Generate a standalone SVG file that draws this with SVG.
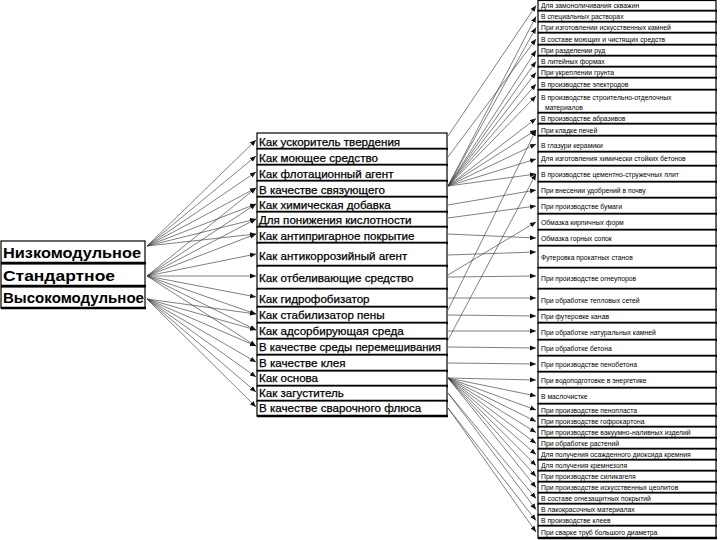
<svg xmlns="http://www.w3.org/2000/svg" width="720" height="540" viewBox="0 0 720 540">
<defs>
<marker id="ah" markerWidth="6" markerHeight="6" refX="6" refY="3" orient="auto" markerUnits="userSpaceOnUse"><path d="M0,0.5 L6,3 L0,5.5 z" fill="#111"/></marker>
<style>
.bx{fill:#fff;stroke:#000;stroke-width:1.2}
.bl{stroke:#000;stroke-width:2.4}
.lt{font-family:"Liberation Sans",Arial,sans-serif;font-weight:bold;font-size:15px;fill:#000}
.mt{font-family:"Liberation Sans",Arial,sans-serif;font-size:11.6px;fill:#000;stroke:#000;stroke-width:0.25}
.rt{font-family:"Liberation Sans",Arial,sans-serif;font-size:6.8px;fill:#000}
.c{fill:none;stroke:#3a3a3a;stroke-width:0.65;marker-end:url(#ah)}
</style>
</defs>
<rect width="720" height="540" fill="#fff"/>

<g id="connectors">
<path class="c" d="M147,246 L256,140"/>
<path class="c" d="M147,246 L256,156"/>
<path class="c" d="M147,246 L256,172"/>
<path class="c" d="M147,246 L256,188"/>
<path class="c" d="M147,246 L256,204"/>
<path class="c" d="M147,246 L256,219"/>
<path class="c" d="M147,246 L256,234"/>
<path class="c" d="M147,276 L256,188"/>
<path class="c" d="M147,276 L256,204"/>
<path class="c" d="M147,276 L256,219"/>
<path class="c" d="M147,276 L256,234"/>
<path class="c" d="M147,276 L256,254"/>
<path class="c" d="M147,276 L256,276"/>
<path class="c" d="M147,276 L256,297"/>
<path class="c" d="M147,276 L256,314"/>
<path class="c" d="M147,276 L256,330"/>
<path class="c" d="M147,276 L256,346"/>
<path class="c" d="M147,299 L256,314"/>
<path class="c" d="M147,299 L256,330"/>
<path class="c" d="M147,299 L256,346"/>
<path class="c" d="M147,299 L256,362"/>
<path class="c" d="M147,299 L256,377"/>
<path class="c" d="M147,299 L256,392"/>
<path class="c" d="M147,299 L256,407"/>
<path class="c" d="M448,136 L536,5.5"/>
<path class="c" d="M448,186 L536,16.5"/>
<path class="c" d="M448,186 L536,27.5"/>
<path class="c" d="M448,157 L536,39"/>
<path class="c" d="M448,186 L536,50.5"/>
<path class="c" d="M448,186 L536,61.5"/>
<path class="c" d="M448,186 L536,72.5"/>
<path class="c" d="M448,186 L536,84"/>
<path class="c" d="M448,186 L536,96"/>
<path class="c" d="M448,186 L536,118.5"/>
<path class="c" d="M448,186 L536,130"/>
<path class="c" d="M448,186 L536,144"/>
<path class="c" d="M448,186 L536,159"/>
<path class="c" d="M448,186 L536,174"/>
<path class="c" d="M448,205 L536,190"/>
<path class="c" d="M448,218 L536,206"/>
<path class="c" d="M448,275 L536,222"/>
<path class="c" d="M448,234 L536,238"/>
<path class="c" d="M448,255 L536,252"/>
<path class="c" d="M448,340 L536,174"/>
<path class="c" d="M448,310 L536,130"/>
<path class="c" d="M448,277 L536,276"/>
<path class="c" d="M448,298 L536,298"/>
<path class="c" d="M448,315 L536,316"/>
<path class="c" d="M448,331 L536,331"/>
<path class="c" d="M448,347 L536,348"/>
<path class="c" d="M448,363 L536,364"/>
<path class="c" d="M448,378 L536,380"/>
<path class="c" d="M448,378 L536,396"/>
<path class="c" d="M448,378 L536,410"/>
<path class="c" d="M448,378 L536,421.5"/>
<path class="c" d="M448,378 L536,432.5"/>
<path class="c" d="M448,378 L536,443.5"/>
<path class="c" d="M448,378 L536,454.5"/>
<path class="c" d="M448,378 L536,465.5"/>
<path class="c" d="M448,378 L536,476.5"/>
<path class="c" d="M448,378 L536,487.5"/>
<path class="c" d="M448,393 L536,498.5"/>
<path class="c" d="M448,393 L536,509.5"/>
<path class="c" d="M448,408 L536,520.5"/>
<path class="c" d="M448,408 L536,532"/>
</g>

<g id="left">
<g id="l1"><rect class="bx" x="1" y="241" width="144" height="22"/><line class="bl" x1="1" y1="263" x2="146" y2="263"/><text class="lt" x="3" y="258" textLength="138" lengthAdjust="spacingAndGlyphs">Низкомодульное</text></g>
<g id="l2"><rect class="bx" x="1" y="264" width="144" height="22"/><line class="bl" x1="1" y1="286" x2="146" y2="286"/><text class="lt" x="3" y="281" textLength="112" lengthAdjust="spacingAndGlyphs">Стандартное</text></g>
<g id="l3"><rect class="bx" x="1" y="287" width="144" height="21"/><line class="bl" x1="1" y1="308" x2="146" y2="308"/><text class="lt" x="3" y="303" textLength="141" lengthAdjust="spacingAndGlyphs">Высокомодульное</text></g>
</g>

<g id="middle">
<g id="m1"><rect class="bx" x="257" y="133" width="190" height="16"/><line class="bl" x1="257" y1="149" x2="448" y2="149"/><text class="mt" x="259" y="146">Как ускоритель твердения</text></g>
<g id="m2"><rect class="bx" x="257" y="149" width="190" height="16"/><line class="bl" x1="257" y1="165" x2="448" y2="165"/><text class="mt" x="259" y="162">Как моющее средство</text></g>
<g id="m3"><rect class="bx" x="257" y="165" width="190" height="16"/><line class="bl" x1="257" y1="181" x2="448" y2="181"/><text class="mt" x="259" y="178">Как флотационный агент</text></g>
<g id="m4"><rect class="bx" x="257" y="181" width="190" height="16"/><line class="bl" x1="257" y1="197" x2="448" y2="197"/><text class="mt" x="259" y="194">В качестве связующего</text></g>
<g id="m5"><rect class="bx" x="257" y="197" width="190" height="15"/><line class="bl" x1="257" y1="212" x2="448" y2="212"/><text class="mt" x="259" y="209">Как химическая добавка</text></g>
<g id="m6"><rect class="bx" x="257" y="212" width="190" height="15"/><line class="bl" x1="257" y1="227" x2="448" y2="227"/><text class="mt" x="259" y="224">Для понижения кислотности</text></g>
<g id="m7"><rect class="bx" x="257" y="227" width="190" height="16"/><line class="bl" x1="257" y1="243" x2="448" y2="243"/><text class="mt" x="259" y="240">Как антипригарное покрытие</text></g>
<g id="m8"><rect class="bx" x="257" y="243" width="190" height="23"/><line class="bl" x1="257" y1="266" x2="448" y2="266"/><text class="mt" x="259" y="260">Как антикоррозийный агент</text></g>
<g id="m9"><rect class="bx" x="257" y="266" width="190" height="23"/><line class="bl" x1="257" y1="289" x2="448" y2="289"/><text class="mt" x="259" y="282">Как отбеливающие средство</text></g>
<g id="m10"><rect class="bx" x="257" y="289" width="190" height="18"/><line class="bl" x1="257" y1="307" x2="448" y2="307"/><text class="mt" x="259" y="303">Как гидрофобизатор</text></g>
<g id="m11"><rect class="bx" x="257" y="307" width="190" height="16"/><line class="bl" x1="257" y1="323" x2="448" y2="323"/><text class="mt" x="259" y="319">Как стабилизатор пены</text></g>
<g id="m12"><rect class="bx" x="257" y="323" width="190" height="16"/><line class="bl" x1="257" y1="339" x2="448" y2="339"/><text class="mt" x="259" y="335">Как адсорбирующая среда</text></g>
<g id="m13"><rect class="bx" x="257" y="339" width="190" height="16"/><line class="bl" x1="257" y1="355" x2="448" y2="355"/><text class="mt" x="259" y="351" textLength="182" lengthAdjust="spacingAndGlyphs">В качестве среды перемешивания</text></g>
<g id="m14"><rect class="bx" x="257" y="355" width="190" height="16"/><line class="bl" x1="257" y1="371" x2="448" y2="371"/><text class="mt" x="259" y="367">В качестве клея</text></g>
<g id="m15"><rect class="bx" x="257" y="371" width="190" height="15"/><line class="bl" x1="257" y1="386" x2="448" y2="386"/><text class="mt" x="259" y="382">Как основа</text></g>
<g id="m16"><rect class="bx" x="257" y="386" width="190" height="15"/><line class="bl" x1="257" y1="401" x2="448" y2="401"/><text class="mt" x="259" y="397">Как загуститель</text></g>
<g id="m17"><rect class="bx" x="257" y="401" width="190" height="15"/><line class="bl" x1="257" y1="416" x2="448" y2="416"/><text class="mt" x="259" y="412">В качестве сварочного флюса</text></g>
</g>

<g id="right">
<g id="r1"><rect class="bx" x="538" y="0.5" width="178" height="10.5"/><line class="bl" x1="538" y1="11" x2="717" y2="11"/><text class="rt" x="541" y="8">Для замоноличивания скважин</text></g>
<g id="r2"><rect class="bx" x="538" y="11" width="178" height="11"/><line class="bl" x1="538" y1="22" x2="717" y2="22"/><text class="rt" x="541" y="19">В специальных растворах</text></g>
<g id="r3"><rect class="bx" x="538" y="22" width="178" height="11"/><line class="bl" x1="538" y1="33" x2="717" y2="33"/><text class="rt" x="541" y="30">При изготовлении искусственных камней</text></g>
<g id="r4"><rect class="bx" x="538" y="33" width="178" height="12"/><line class="bl" x1="538" y1="45" x2="717" y2="45"/><text class="rt" x="541" y="41.5">В составе моющих и чистящих средств</text></g>
<g id="r5"><rect class="bx" x="538" y="45" width="178" height="11"/><line class="bl" x1="538" y1="56" x2="717" y2="56"/><text class="rt" x="541" y="53">При разделении руд</text></g>
<g id="r6"><rect class="bx" x="538" y="56" width="178" height="11"/><line class="bl" x1="538" y1="67" x2="717" y2="67"/><text class="rt" x="541" y="64">В литейных формах</text></g>
<g id="r7"><rect class="bx" x="538" y="67" width="178" height="11"/><line class="bl" x1="538" y1="78" x2="717" y2="78"/><text class="rt" x="541" y="75">При укреплении грунта</text></g>
<g id="r8"><rect class="bx" x="538" y="78" width="178" height="12"/><line class="bl" x1="538" y1="90" x2="717" y2="90"/><text class="rt" x="541" y="86.5">В производстве электродов</text></g>
<g id="r9"><rect class="bx" x="538" y="90" width="178" height="23"/><line class="bl" x1="538" y1="113" x2="717" y2="113"/><text class="rt" x="541" y="99.5">В производстве строительно-отделочных</text><text class="rt" x="545" y="109.5">материалов</text></g>
<g id="r10"><rect class="bx" x="538" y="113" width="178" height="11"/><line class="bl" x1="538" y1="124" x2="717" y2="124"/><text class="rt" x="541" y="121">В производстве абразивов</text></g>
<g id="r11"><rect class="bx" x="538" y="124" width="178" height="12"/><line class="bl" x1="538" y1="136" x2="717" y2="136"/><text class="rt" x="541" y="132.5">При кладке печей</text></g>
<g id="r12"><rect class="bx" x="538" y="136" width="178" height="16"/><line class="bl" x1="538" y1="152" x2="717" y2="152"/><text class="rt" x="541" y="147.5">В глазури керамики</text></g>
<g id="r13"><rect class="bx" x="538" y="152" width="178" height="14"/><line class="bl" x1="538" y1="166" x2="717" y2="166"/><text class="rt" x="541" y="161">Для изготовления химически стойких бетонов</text></g>
<g id="r14"><rect class="bx" x="538" y="166" width="178" height="16"/><line class="bl" x1="538" y1="182" x2="717" y2="182"/><text class="rt" x="541" y="176.5">В производстве цементно-стружечных плит</text></g>
<g id="r15"><rect class="bx" x="538" y="182" width="178" height="16"/><line class="bl" x1="538" y1="198" x2="717" y2="198"/><text class="rt" x="541" y="192.5">При внесении удобрений в почву</text></g>
<g id="r16"><rect class="bx" x="538" y="198" width="178" height="16"/><line class="bl" x1="538" y1="214" x2="717" y2="214"/><text class="rt" x="541" y="208.5">При производстве бумаги</text></g>
<g id="r17"><rect class="bx" x="538" y="214" width="178" height="16"/><line class="bl" x1="538" y1="230" x2="717" y2="230"/><text class="rt" x="541" y="224.5">Обмазка кирпичных форм</text></g>
<g id="r18"><rect class="bx" x="538" y="230" width="178" height="16"/><line class="bl" x1="538" y1="246" x2="717" y2="246"/><text class="rt" x="541" y="240.5">Обмазка горных сопок</text></g>
<g id="r19"><rect class="bx" x="538" y="246" width="178" height="22"/><line class="bl" x1="538" y1="268" x2="717" y2="268"/><text class="rt" x="541" y="260">Футеровка прокатных станов</text></g>
<g id="r20"><rect class="bx" x="538" y="268" width="178" height="21"/><line class="bl" x1="538" y1="289" x2="717" y2="289"/><text class="rt" x="541" y="281">При производстве огнеупоров</text></g>
<g id="r21"><rect class="bx" x="538" y="289" width="178" height="21"/><line class="bl" x1="538" y1="310" x2="717" y2="310"/><text class="rt" x="541" y="302.5">При обработке тепловых сетей</text></g>
<g id="r22"><rect class="bx" x="538" y="310" width="178" height="13"/><line class="bl" x1="538" y1="323" x2="717" y2="323"/><text class="rt" x="541" y="319">При футеровке канав</text></g>
<g id="r23"><rect class="bx" x="538" y="323" width="178" height="17"/><line class="bl" x1="538" y1="340" x2="717" y2="340"/><text class="rt" x="541" y="334.5">При обработке натуральных камней</text></g>
<g id="r24"><rect class="bx" x="538" y="340" width="178" height="16"/><line class="bl" x1="538" y1="356" x2="717" y2="356"/><text class="rt" x="541" y="350.5">При обработке бетона</text></g>
<g id="r25"><rect class="bx" x="538" y="356" width="178" height="16"/><line class="bl" x1="538" y1="372" x2="717" y2="372"/><text class="rt" x="541" y="366.5">При производстве пенобетона</text></g>
<g id="r26"><rect class="bx" x="538" y="372" width="178" height="16"/><line class="bl" x1="538" y1="388" x2="717" y2="388"/><text class="rt" x="541" y="382.5">При водоподготовке в энергетике</text></g>
<g id="r27"><rect class="bx" x="538" y="388" width="178" height="16"/><line class="bl" x1="538" y1="404" x2="717" y2="404"/><text class="rt" x="541" y="398.5">В маслочистке</text></g>
<g id="r28"><rect class="bx" x="538" y="404" width="178" height="12"/><line class="bl" x1="538" y1="416" x2="717" y2="416"/><text class="rt" x="541" y="413">При производстве пенопласта</text></g>
<g id="r29"><rect class="bx" x="538" y="416" width="178" height="11"/><line class="bl" x1="538" y1="427" x2="717" y2="427"/><text class="rt" x="541" y="424">При производстве гофрокартона</text></g>
<g id="r30"><rect class="bx" x="538" y="427" width="178" height="11"/><line class="bl" x1="538" y1="438" x2="717" y2="438"/><text class="rt" x="541" y="435">При производстве вакуумно-наливных изделий</text></g>
<g id="r31"><rect class="bx" x="538" y="438" width="178" height="11"/><line class="bl" x1="538" y1="449" x2="717" y2="449"/><text class="rt" x="541" y="446">При обработке растений</text></g>
<g id="r32"><rect class="bx" x="538" y="449" width="178" height="11"/><line class="bl" x1="538" y1="460" x2="717" y2="460"/><text class="rt" x="541" y="457">Для получения осажденного диоксида кремния</text></g>
<g id="r33"><rect class="bx" x="538" y="460" width="178" height="11"/><line class="bl" x1="538" y1="471" x2="717" y2="471"/><text class="rt" x="541" y="468">Для получения кремнезоля</text></g>
<g id="r34"><rect class="bx" x="538" y="471" width="178" height="11"/><line class="bl" x1="538" y1="482" x2="717" y2="482"/><text class="rt" x="541" y="479">При производстве силикагеля</text></g>
<g id="r35"><rect class="bx" x="538" y="482" width="178" height="11"/><line class="bl" x1="538" y1="493" x2="717" y2="493"/><text class="rt" x="541" y="490">При производстве искусственных цеолитов</text></g>
<g id="r36"><rect class="bx" x="538" y="493" width="178" height="11"/><line class="bl" x1="538" y1="504" x2="717" y2="504"/><text class="rt" x="541" y="501">В составе огнезащитных покрытий</text></g>
<g id="r37"><rect class="bx" x="538" y="504" width="178" height="11"/><line class="bl" x1="538" y1="515" x2="717" y2="515"/><text class="rt" x="541" y="512">В лакокрасочных материалах</text></g>
<g id="r38"><rect class="bx" x="538" y="515" width="178" height="11"/><line class="bl" x1="538" y1="526" x2="717" y2="526"/><text class="rt" x="541" y="523">В производстве клеев</text></g>
<g id="r39"><rect class="bx" x="538" y="526" width="178" height="12"/><line class="bl" x1="538" y1="538" x2="717" y2="538"/><text class="rt" x="541" y="534.5">При сварке труб большого диаметра</text></g>
</g>
</svg>
